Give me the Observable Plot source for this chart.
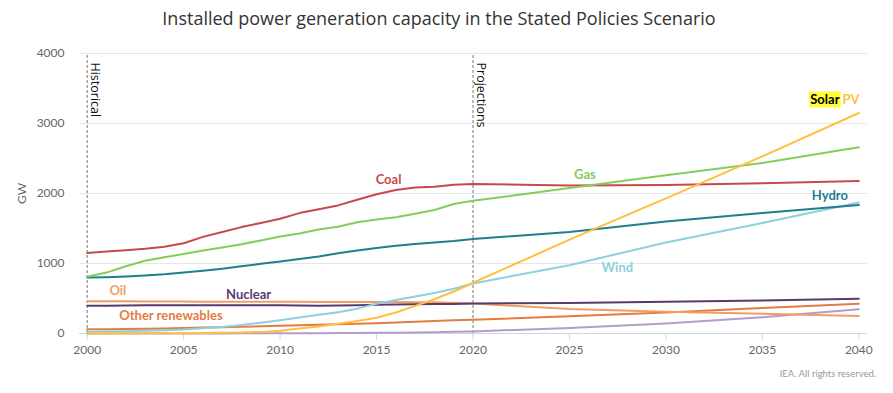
<!DOCTYPE html>
<html>
<head>
<meta charset="utf-8">
<script src="https://cdn.jsdelivr.net/npm/d3@7"></script>
<script src="https://cdn.jsdelivr.net/npm/@observablehq/plot@0.6"></script>
<style>
  body { margin: 0; background: #fff; }
  #wrap { position: relative; width: 893px; height: 393px; overflow: hidden; font-family: Lato, "Open Sans", sans-serif; }
  #title { position: absolute; top: 6px; left: 0; width: 878px; text-align: center; font-family: "Open Sans", sans-serif; font-size: 18px; color: #333; }
  #chart { position: absolute; top: 40px; left: 0; }
  #credit { position: absolute; right: 17px; top: 368px; font-family: Lato, "Open Sans", sans-serif; font-size: 9.5px; color: #999; }
</style>
</head>
<body>
<div id="wrap">
  <div id="title">Installed power generation capacity in the Stated Policies Scenario</div>
  <div id="chart"></div>
  <div id="credit">IEA. All rights reserved.</div>
</div>
<script>
const years = [2000,2001,2002,2003,2004,2005,2006,2007,2008,2009,2010,2011,2012,2013,2014,2015,2016,2017,2018,2019,2020,2025,2030,2035,2040];
const coal = [1150,1170,1190,1210,1240,1290,1380,1450,1520,1580,1640,1720,1775,1830,1910,1990,2050,2085,2095,2125,2135,2115,2120,2145,2180];
const gas = [810,870,960,1040,1090,1135,1185,1230,1275,1330,1385,1430,1485,1525,1590,1630,1660,1710,1765,1850,1895,2080,2260,2435,2660];
const hydro = [800,805,815,830,845,870,895,925,960,995,1030,1065,1100,1145,1185,1220,1255,1280,1300,1320,1350,1450,1600,1720,1835];
const solarPV = [1,1,2,3,4,5,7,9,15,23,40,70,100,140,180,225,300,395,490,600,725,1340,1930,2530,3150];
const wind = [25,28,32,38,46,58,74,94,120,155,190,228,268,305,355,425,480,530,580,640,715,975,1300,1580,1870];
const nuclear = [395,398,400,402,404,405,405,404,403,404,405,400,398,400,405,410,415,418,420,423,428,435,452,470,495];
const oil = [460,460,460,458,458,456,455,455,454,453,452,452,451,450,450,450,450,448,445,438,428,350,310,282,250];
const otherRenewables = [60,62,65,68,72,78,84,90,96,102,110,118,125,132,140,148,157,168,178,188,197,245,300,365,424];
const batteryStorage = [0,0,0,0,0,1,1,1,2,2,3,4,5,6,8,10,12,15,19,24,30,80,142,233,348];

const seriesNames = ["Battery storage","Other renewables","Oil","Nuclear","Wind","Hydro","Coal","Gas","Solar PV"];
const seriesValues = [batteryStorage, otherRenewables, oil, nuclear, wind, hydro, coal, gas, solarPV];
const seriesColors = ["#b39dcc","#e27d43","#f39c63","#573d6f","#8ed0de","#1e7f8e","#c6494c","#84cd5d","#ffbf3f"];

const xTicks = [2000,2005,2010,2015,2020,2025,2030,2035,2040];
const yTicks = [0,1000,2000,3000,4000];
const markers = [2000, 2020];
const markerLabels = ["Historical", "Projections"];

// label anchors in data units
const labelNames = ["Coal","Gas","Hydro","Wind","Nuclear","Oil","Other renewables"];
const labelYears = [2015.62,2025.8,2038.5,2027.48,2008.37,2001.59,2004.34];
const labelValues = [2200,2271,1967,938,557,614,247];
const labelColors = ["#c6494c","#84cd5d","#1e7f8e","#8ed0de","#573d6f","#f39c63","#e27d43"];
const solarLabelYear = 2039.0;
const solarLabelValue = 3333;

const table = [];
seriesNames.forEach((s, i) => {
  years.forEach((yr, j) => table.push({series: s, year: yr, value: seriesValues[i][j]}));
});
const labels = labelNames.map((n, i) => ({name: n, year: labelYears[i], value: labelValues[i], color: labelColors[i]}));

const plot = Plot.plot({
  width: 893,
  height: 353,
  marginTop: 13,
  marginBottom: 60,
  marginLeft: 79,
  marginRight: 26,
  style: {fontFamily: "Lato, 'Open Sans', sans-serif", fontSize: "12px", background: "#fff"},
  x: {domain: [1999.6, 2040.45]},
  y: {domain: [0, 4000]},
  color: {domain: seriesNames, range: seriesColors},
  marks: [
    Plot.gridY(yTicks.filter(d => d > 0), {stroke: "#e6e6e6", strokeOpacity: 1}),
    Plot.axisY({ticks: yTicks, tickFormat: d => String(d), tickSize: 0, tickPadding: 15, fill: "#666", label: "GW", labelAnchor: "center", labelArrow: "none", labelOffset: 62, fontSize: 12}),
    Plot.axisX({ticks: xTicks, tickSize: 7, tickPadding: 5, stroke: "#ccd6eb", fill: "#666", tickFormat: d => String(d), label: null, fontSize: 12}),
    Plot.ruleY([0], {stroke: "#ccd6eb", strokeWidth: 1}),
    Plot.ruleX(markers, {y1: 0, y2: 4000, stroke: "#777", strokeDasharray: "3,2", strokeWidth: 1}),
    Plot.text(markers, {x: d => d, y: 4000, text: (d, i) => markerLabels[i], rotate: 90, textAnchor: "start", dx: 8, dy: 9, fill: "#111", fontSize: 12.5, fontFamily: "'Open Sans', sans-serif"}),
    Plot.line(table, {x: "year", y: "value", z: "series", stroke: "series", strokeWidth: 2, curve: "linear"}),
    Plot.text(labels, {x: "year", y: "value", text: "name", fill: "color", fontWeight: "bold", fontSize: 13}),
    Plot.text([solarLabelValue], {x: solarLabelYear, y: d => d, text: ["Solar"], textAnchor: "end", fill: "#000", fontWeight: "bold", fontSize: 13, className: "solar-word"}),
    Plot.text([solarLabelValue], {x: solarLabelYear, y: d => d, text: ["PV"], textAnchor: "start", dx: 3, fill: "#ffbf3f", fontWeight: "bold", fontSize: 13})
  ]
});
document.getElementById("chart").appendChild(plot);

// yellow highlight behind "Solar"
const st = plot.querySelector(".solar-word text");
if (st) {
  const bb = st.getBBox();
  const ns = "http://www.w3.org/2000/svg";
  const r = document.createElementNS(ns, "rect");
  r.setAttribute("x", bb.x - 1);
  r.setAttribute("y", bb.y);
  r.setAttribute("width", bb.width + 2);
  r.setAttribute("height", bb.height);
  r.setAttribute("fill", "#ffff33");
  const tr = st.getAttribute("transform");
  if (tr) r.setAttribute("transform", tr);
  st.parentNode.insertBefore(r, st);
}
</script>
</body>
</html>
